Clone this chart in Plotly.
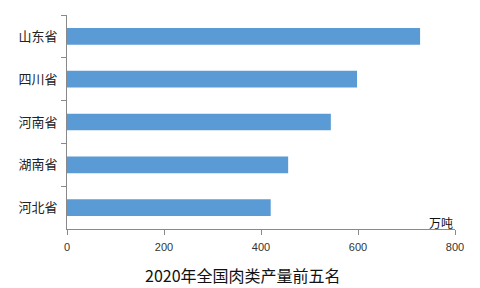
import plotly.graph_objects as go

provinces = ["山东省", "四川省", "河南省", "湖南省", "河北省"]
output_wt = [728, 598, 544, 456, 420]
x_ticks = [0, 200, 400, 600, 800]
title_text = "2020年全国肉类产量前五名"
unit_text = "万吨"

cjk = "Noto Sans CJK SC"

fig = go.Figure(go.Bar(
    y=provinces, x=output_wt, orientation="h",
    marker=dict(color="#5B9BD5", line=dict(width=0)),
))

fig.update_layout(
    width=480, height=288,
    margin=dict(l=67, r=25, t=15, b=59),
    paper_bgcolor="white", plot_bgcolor="white",
    bargap=0.61,
    showlegend=False,
    xaxis=dict(range=[0, 800], tickvals=x_ticks, showgrid=False, zeroline=False,
               showline=True, linecolor="#898989", linewidth=1,
               ticks="outside", ticklen=5, tickcolor="#898989", ticklabelstandoff=3,
               tickfont=dict(family="Liberation Sans", size=11, color="#333333")),
    yaxis=dict(autorange="reversed", showgrid=False, zeroline=False,
               showline=True, linecolor="#898989", linewidth=1,
               ticks="outside", ticklen=5, tickcolor="#898989", tickson="boundaries",
               ticklabelstandoff=6,
               tickfont=dict(family=cjk, size=13, color="#222222")),
    annotations=[
        dict(text=title_text, xref="paper", yref="paper", x=0.4536, y=-0.215,
             xanchor="center", yanchor="middle", showarrow=False,
             font=dict(family=cjk, size=16, color="#111111")),
        dict(text=unit_text, xref="paper", yref="paper", x=1.0, y=0.0,
             xanchor="right", yanchor="bottom", showarrow=False, yshift=-4,
             font=dict(family=cjk, size=12, color="#111111")),
    ],
)

fig.write_html("out.html")
